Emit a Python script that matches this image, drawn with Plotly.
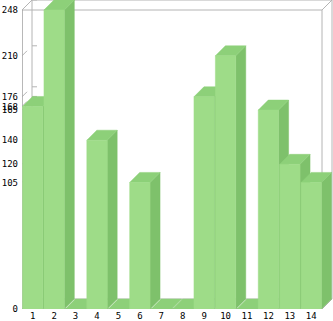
import plotly.graph_objects as go

# ---- data ----
categories = [str(i) for i in range(1, 15)]
values = [168, 248, 0, 140, 0, 105, 0, 0, 176, 210, 0, 165, 120, 105]
y_tick_values = [0, 105, 120, 140, 165, 168, 176, 210, 248]
y_max = 248

# ---- geometry (pixels) ----
W, H = 333, 321
L, B = 22, 12
front_w_px = 300
depth_px = 10
right_px = 11
top_px = 10
plot_w = W - L
plot_h = H - B

n = len(values)
xpos = list(range(1, n + 1))
xs = front_w_px / n
ys = (plot_h - top_px) / y_max
x_lo, x_hi = 0.5, n + 0.5
x_range = [x_lo, x_hi + right_px / xs]
y_range = [0, plot_h / ys]
dx = depth_px / xs
dy = depth_px / ys
h = 0.95 / 2

FRONT = "#9edc88"
TOP = "#8dd079"
SIDE = "#7ec16b"
GRID = "#b4b4b4"
AXIS = "#a0a0a0"


def poly(pts_list):
    X, Y = [], []
    for pts in pts_list:
        for (a, b) in pts:
            X.append(a)
            Y.append(b)
        X.append(pts[0][0])
        Y.append(pts[0][1])
        X.append(None)
        Y.append(None)
    return X, Y


fig = go.Figure()

# frame (back wall, wireframe box)
fx, fy = [], []
def seg(p, q):
    fx.extend([p[0], q[0], None])
    fy.extend([p[1], q[1], None])

corners = [(x_lo, 0), (x_hi, 0), (x_hi, y_max), (x_lo, y_max)]
for i in range(4):
    p, q = corners[i], corners[(i + 1) % 4]
    seg((p[0] + dx, p[1] + dy), (q[0] + dx, q[1] + dy))
    if i in (1, 2):
        seg(p, q)
    seg(p, (p[0] + dx, p[1] + dy))
# tick stubs on the left wall and back wall
for v in y_tick_values[1:]:
    seg((x_lo, v), (x_lo + dx / 2, v + dy / 2))
    seg((x_lo + dx, v + dy), (x_lo + dx + 5 / xs, v + dy))

fig.add_trace(go.Scatter(x=fx, y=fy, mode="lines", line=dict(color=GRID, width=1),
                         hoverinfo="skip", cliponaxis=False, showlegend=False))
# front-left axis and floor front line
fig.add_trace(go.Scatter(x=[x_lo, x_lo, None, x_lo, x_hi], y=[y_max, 0, None, 0, 0],
                         mode="lines", line=dict(color=AXIS, width=1.5),
                         hoverinfo="skip", cliponaxis=False, showlegend=False))

sides, tops, fronts = [], [], []
for c, v in zip(xpos, values):
    sides.append([(c + h, 0), (c + h + dx, dy), (c + h + dx, v + dy), (c + h, v)])
    tops.append([(c - h, v), (c + h, v), (c + h + dx, v + dy), (c - h + dx, v + dy)])
    if v > 0:
        fronts.append([(c - h, 0), (c + h, 0), (c + h, v), (c - h, v)])

for pts, col in ((sides, SIDE), (tops, TOP), (fronts, FRONT)):
    X, Y = poly(pts)
    fig.add_trace(go.Scatter(x=X, y=Y, mode="lines", fill="toself", fillcolor=col,
                             line=dict(color=col, width=0.5), hoverinfo="skip",
                             showlegend=False))

fig.update_layout(
    width=W, height=H,
    margin=dict(l=L, r=0, t=0, b=B, pad=0),
    paper_bgcolor="white", plot_bgcolor="white",
    showlegend=False,
    font=dict(family="DejaVu Sans Mono", size=9, color="black"),
)
fig.update_xaxes(range=x_range, tickvals=xpos, ticktext=categories, showgrid=False,
                 zeroline=False, showline=False, ticks="", tickfont=dict(size=9))
fig.update_yaxes(range=y_range, tickvals=y_tick_values,
                 ticktext=[str(v) for v in y_tick_values], showgrid=False,
                 zeroline=False, showline=False, ticks="", tickfont=dict(size=9),
                 ticklabelstandoff=3)

fig.write_html("out.html")
